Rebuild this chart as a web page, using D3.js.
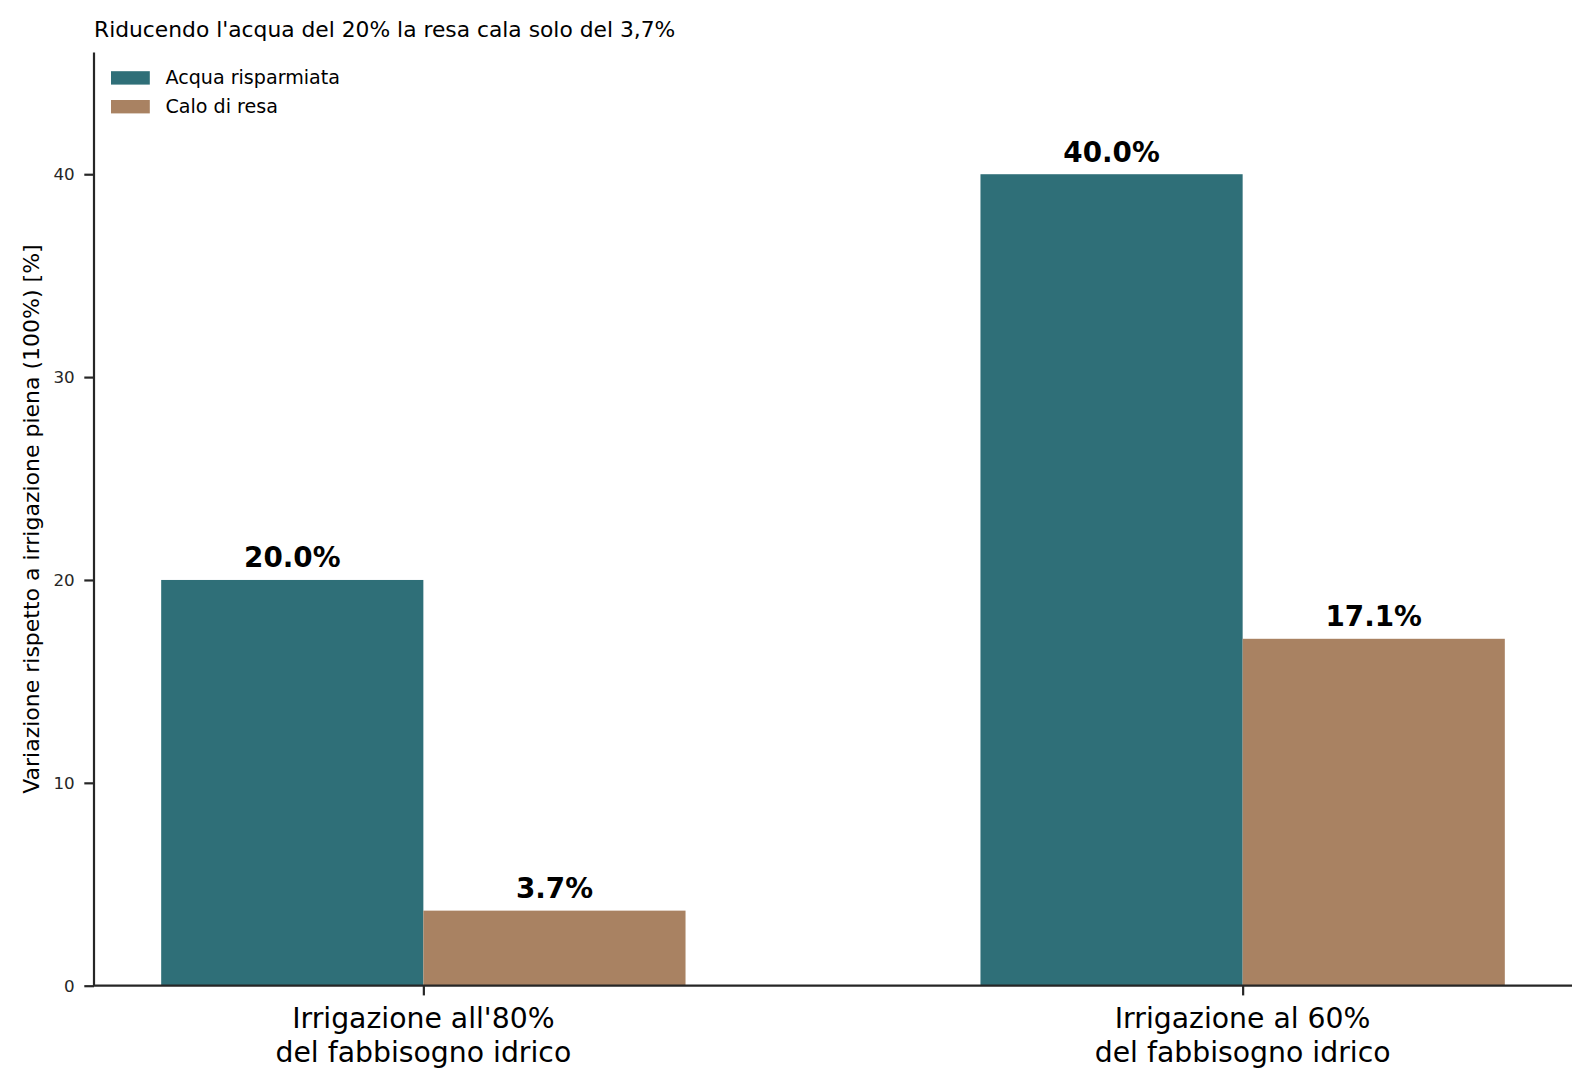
<!DOCTYPE html>
<html>
<head>
<meta charset="utf-8">
<script src="https://cdn.jsdelivr.net/npm/d3@7"></script>
<style>
  body { margin: 0; background: #fff; }
  svg { display: block; font-family: "DejaVu Sans", sans-serif; }
</style>
</head>
<body>
<svg></svg>
<script>
let categories = [
  ["Irrigazione all'80%", "del fabbisogno idrico"],
  ["Irrigazione al 60%", "del fabbisogno idrico"],
];
let seriesNames = ["Acqua risparmiata", "Calo di resa"];
let acquaRisparmiata = [20.0, 40.0];
let caloResa = [3.7, 17.1];
let yTicks = [0, 10, 20, 30, 40];
let colors = ["#2f6f78", "#a98262"];

let width = 1592;
let height = 1091;
let plotLeft = 94, plotRight = 1572, plotTop = 52.5, plotBottom = 985.7;
let barW = 0.32;

let svg = d3.select("svg").attr("width", width).attr("height", height);

let xScale = d3.scaleLinear().domain([-0.402, 1.402]).range([plotLeft, plotRight]);
let yScale = d3.scaleLinear().domain([0, 46]).range([plotBottom, plotTop]);

let series = [acquaRisparmiata, caloResa];

// bars + value labels
series.forEach((vals, s) => {
  let offset = s === 0 ? -barW / 2 : barW / 2;
  svg.append("g")
    .selectAll("rect")
    .data(vals)
    .enter()
    .append("rect")
    .attr("x", (d, i) => xScale(i + offset - barW / 2))
    .attr("width", xScale(barW) - xScale(0))
    .attr("y", (d) => yScale(d))
    .attr("height", (d) => yScale(0) - yScale(d))
    .attr("fill", colors[s]);

  svg.append("g")
    .selectAll("text")
    .data(vals)
    .enter()
    .append("text")
    .attr("x", (d, i) => xScale(i + offset))
    .attr("y", (d) => yScale(d) - 12.5)
    .attr("text-anchor", "middle")
    .attr("font-size", 27.8)
    .attr("font-weight", "bold")
    .attr("fill", "#000")
    .text((d) => d.toFixed(1) + "%");
});

// y axis
let yAxis = d3.axisLeft(yScale).tickValues(yTicks).tickSize(9.7).tickPadding(9.7).tickFormat(d3.format("d"));
let gy = svg.append("g")
  .attr("transform", "translate(" + plotLeft + ",0)")
  .call(yAxis);
gy.select(".domain").remove();
gy.selectAll(".tick line").attr("stroke", "#262626").attr("stroke-width", 2.2);
gy.selectAll(".tick text")
  .attr("font-size", 16.7)
  .attr("font-family", "DejaVu Sans")
  .attr("fill", "#262626");

// x axis
let xAxis = d3.axisBottom(xScale).tickValues([0, 1]).tickSize(9.7).tickFormat("");
let gx = svg.append("g")
  .attr("transform", "translate(0," + plotBottom + ")")
  .call(xAxis);
gx.select(".domain").remove();
gx.selectAll(".tick line").attr("stroke", "#262626").attr("stroke-width", 2.2);

// spines
svg.append("line")
  .attr("x1", plotLeft).attr("x2", plotLeft)
  .attr("y1", plotTop).attr("y2", plotBottom)
  .attr("stroke", "#262626").attr("stroke-width", 2.2);
svg.append("line")
  .attr("x1", plotLeft - 1).attr("x2", plotRight)
  .attr("y1", plotBottom).attr("y2", plotBottom)
  .attr("stroke", "#262626").attr("stroke-width", 2.2);

// category labels
categories.forEach((lines, i) => {
  let t = svg.append("text")
    .attr("text-anchor", "middle")
    .attr("font-size", 28.3)
    .attr("fill", "#000");
  lines.forEach((ln, k) => {
    t.append("tspan")
      .attr("x", xScale(i))
      .attr("y", 1028 + k * 33.6)
      .text(ln);
  });
});

// y label
svg.append("text")
  .attr("transform", "translate(38.5," + (plotTop + plotBottom) / 2 + ") rotate(-90)")
  .attr("text-anchor", "middle")
  .attr("font-size", 22)
  .attr("fill", "#000")
  .text("Variazione rispetto a irrigazione piena (100%) [%]");

// title
svg.append("text")
  .attr("x", plotLeft)
  .attr("y", 36.5)
  .attr("font-size", 21.8)
  .attr("fill", "#000")
  .text("Riducendo l'acqua del 20% la resa cala solo del 3,7%");

// legend
seriesNames.forEach((name, i) => {
  let cy = 77.7 + i * 28.8;
  svg.append("rect")
    .attr("x", 111).attr("y", cy - 6.5)
    .attr("width", 38.8).attr("height", 13.4)
    .attr("fill", colors[i]);
  svg.append("text")
    .attr("x", 165.5).attr("y", cy + 6.5)
    .attr("font-size", 19.1)
    .attr("fill", "#000")
    .text(name);
});
</script>
</body>
</html>
